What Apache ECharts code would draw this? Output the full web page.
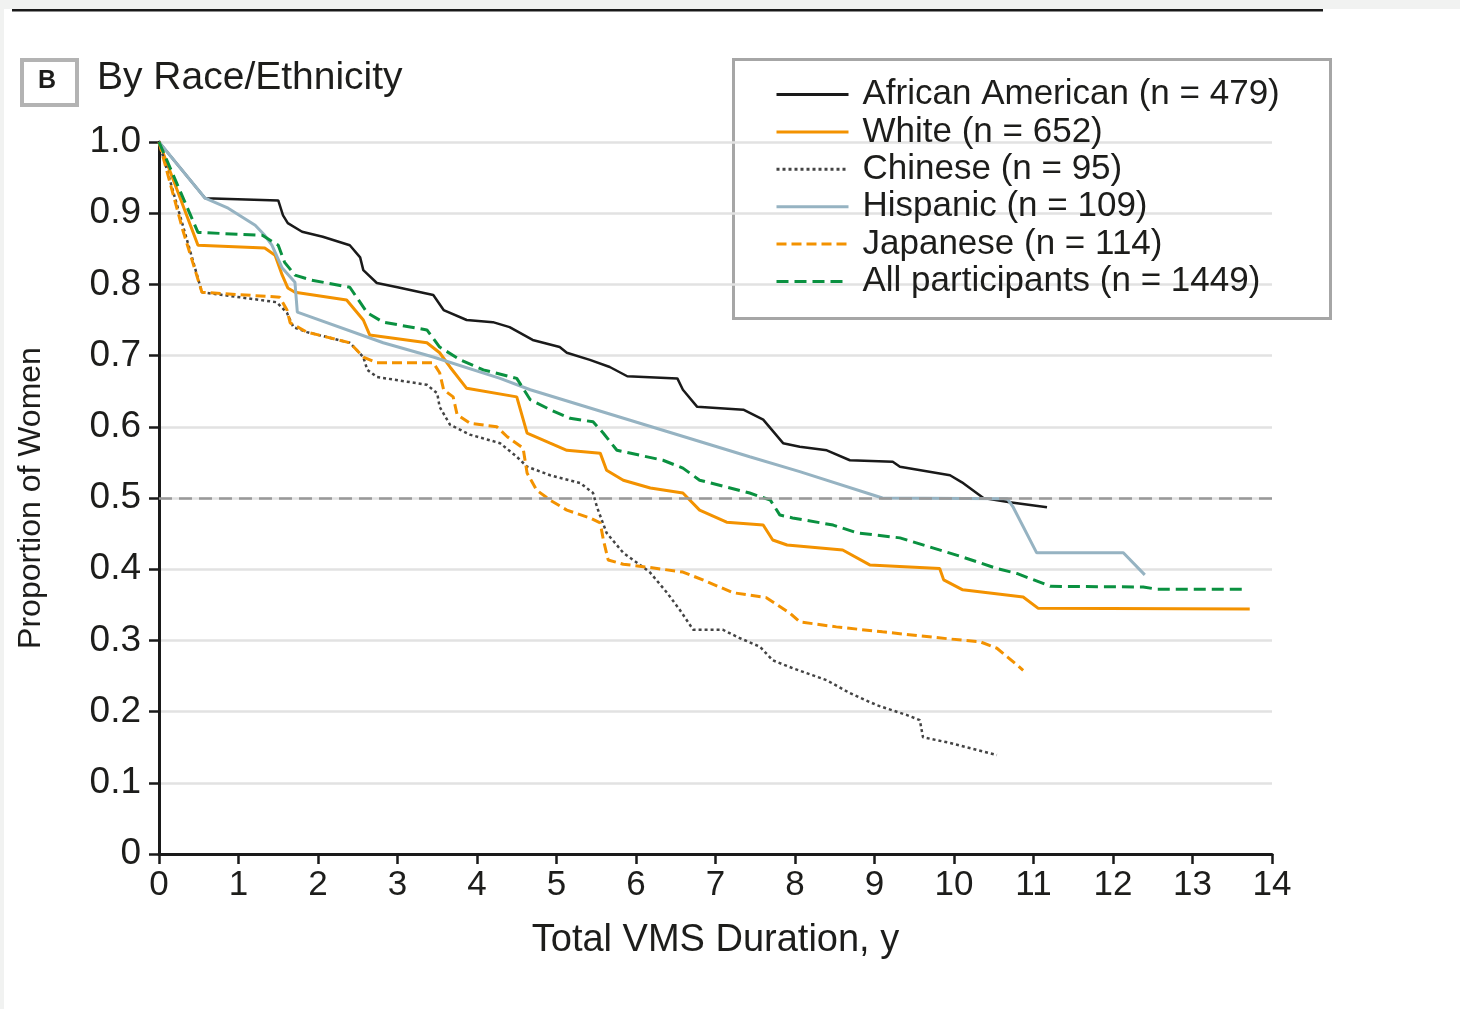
<!DOCTYPE html>
<html>
<head>
<meta charset="utf-8">
<script src="https://cdn.jsdelivr.net/npm/echarts@6/dist/echarts.min.js"></script>
<style>
html,body{margin:0;padding:0;background:#fff;}
#chart{width:1460px;height:1009px;}
</style>
</head>
<body>
<div id="chart"></div>
<script>
// ---- Data ----
var seriesNames = [
  'African American (n = 479)',
  'White (n = 652)',
  'Chinese (n = 95)',
  'Hispanic (n = 109)',
  'Japanese (n = 114)',
  'All participants (n = 1449)'
];

var afrX = [0, 0.58, 1.5, 1.56, 1.62, 1.8, 2.06, 2.4, 2.53, 2.57, 2.74, 3.0, 3.45, 3.58, 3.87, 4.2, 4.41, 4.7, 5.04, 5.13, 5.42, 5.67, 5.89, 6.52, 6.59, 6.77, 7.35, 7.6, 7.85, 8.06, 8.4, 8.69, 9.23, 9.32, 9.95, 10.1, 10.37, 10.7, 11.17];
var afrY = [1.0, 0.921, 0.918, 0.897, 0.886, 0.874, 0.867, 0.855, 0.838, 0.82, 0.802, 0.796, 0.785, 0.764, 0.75, 0.747, 0.74, 0.722, 0.712, 0.704, 0.694, 0.684, 0.671, 0.668, 0.652, 0.628, 0.624, 0.61, 0.577, 0.572, 0.567, 0.553, 0.551, 0.544, 0.532, 0.522, 0.5, 0.494, 0.487];

var whiX = [0, 0.49, 1.33, 1.46, 1.55, 1.62, 1.71, 2.36, 2.57, 2.65, 3.37, 3.53, 3.66, 3.87, 4.5, 4.63, 4.92, 5.13, 5.55, 5.63, 5.84, 6.18, 6.59, 6.8, 7.14, 7.6, 7.72, 7.9, 8.6, 8.94, 9.82, 9.87, 10.11, 10.87, 11.06, 13.72];
var whiY = [1.0, 0.855, 0.851, 0.841, 0.813, 0.795, 0.789, 0.778, 0.75, 0.729, 0.718, 0.704, 0.684, 0.654, 0.642, 0.591, 0.577, 0.567, 0.563, 0.539, 0.525, 0.514, 0.507, 0.483, 0.466, 0.462, 0.441, 0.434, 0.427, 0.406, 0.401, 0.385, 0.371, 0.361, 0.345, 0.344];

var chiX = [0, 0.54, 1.48, 1.61, 1.69, 1.86, 2.4, 2.57, 2.62, 2.74, 3.37, 3.5, 3.53, 3.66, 3.91, 4.29, 4.5, 4.63, 4.92, 5.3, 5.46, 5.51, 5.57, 5.63, 5.84, 6.09, 6.18, 6.39, 6.55, 6.72, 7.09, 7.31, 7.56, 7.72, 7.97, 8.4, 8.69, 9.03, 9.41, 9.57, 9.61, 9.95, 10.54];
var chiY = [1.0, 0.789, 0.775, 0.76, 0.74, 0.733, 0.718, 0.698, 0.68, 0.67, 0.659, 0.647, 0.628, 0.603, 0.589, 0.577, 0.558, 0.544, 0.532, 0.521, 0.507, 0.487, 0.469, 0.451, 0.423, 0.403, 0.395, 0.367, 0.343, 0.315, 0.315, 0.303, 0.291, 0.272, 0.261, 0.244, 0.226, 0.209, 0.195, 0.188, 0.164, 0.156, 0.139];

var hisX = [0, 0.58, 0.87, 1.21, 1.33, 1.42, 1.55, 1.71, 1.74, 2.82, 3.45, 4.29, 4.67, 7.43, 8.06, 9.1, 10.67, 10.74, 11.04, 12.13, 12.4];
var hisY = [1.0, 0.921, 0.907, 0.883, 0.869, 0.855, 0.823, 0.803, 0.761, 0.718, 0.698, 0.668, 0.652, 0.558, 0.537, 0.5, 0.499, 0.488, 0.423, 0.423, 0.392];

var japX = [0, 0.3, 0.54, 1.52, 1.61, 1.65, 1.86, 2.4, 2.57, 2.74, 3.45, 3.53, 3.58, 3.7, 3.75, 3.91, 4.25, 4.38, 4.58, 4.63, 4.75, 4.92, 5.13, 5.42, 5.55, 5.59, 5.65, 5.84, 6.13, 6.59, 6.84, 7.22, 7.64, 7.94, 8.06, 8.52, 9.1, 9.95, 10.33, 10.54, 10.67, 10.87];
var japY = [1.0, 0.876, 0.789, 0.782, 0.764, 0.746, 0.733, 0.718, 0.698, 0.69, 0.69, 0.676, 0.652, 0.642, 0.617, 0.605, 0.6, 0.586, 0.57, 0.535, 0.511, 0.497, 0.483, 0.472, 0.465, 0.441, 0.413, 0.407, 0.403, 0.396, 0.385, 0.367, 0.36, 0.338, 0.326, 0.319, 0.312, 0.302, 0.298, 0.289, 0.277, 0.258];

var allX = [0, 0.49, 1.3, 1.5, 1.58, 1.71, 1.92, 2.4, 2.62, 2.82, 3.37, 3.53, 3.79, 4.08, 4.5, 4.67, 4.92, 5.17, 5.46, 5.59, 5.76, 6.34, 6.59, 6.8, 7.43, 7.69, 7.81, 7.97, 8.48, 8.78, 9.32, 9.7, 10.11, 10.54, 10.79, 11.12, 11.21, 12.38, 12.55, 13.68];
var allY = [1.0, 0.873, 0.869, 0.855, 0.831, 0.813, 0.806, 0.796, 0.76, 0.747, 0.736, 0.712, 0.694, 0.68, 0.668, 0.638, 0.624, 0.612, 0.607, 0.591, 0.567, 0.553, 0.542, 0.525, 0.507, 0.497, 0.476, 0.472, 0.462, 0.451, 0.444, 0.431, 0.417, 0.401, 0.394, 0.38, 0.376, 0.375, 0.372, 0.372];

var xTicks = [0, 1, 2, 3, 4, 5, 6, 7, 8, 9, 10, 11, 12, 13, 14];
var yTickLabels = ['0', '0.1', '0.2', '0.3', '0.4', '0.5', '0.6', '0.7', '0.8', '0.9', '1.0'];
var medianLine = 0.5;

// ---- Build ----
function pairs(xs, ys) { return xs.map(function (x, i) { return [x, ys[i]]; }); }
var FONT = "'Liberation Sans', Arial, sans-serif";
var TXT = '#1d1d1b';

var styles = [
  { data: pairs(afrX, afrY), color: '#1a1a1a', width: 2.5, type: 'solid' },
  { data: pairs(whiX, whiY), color: '#f39200', width: 3, type: 'solid' },
  { data: pairs(chiX, chiY), color: '#444444', width: 2.5, type: [3, 3] },
  { data: pairs(hisX, hisY), color: '#96b3c2', width: 3, type: 'solid' },
  { data: pairs(japX, japY), color: '#f39200', width: 3, type: [10, 5] },
  { data: pairs(allX, allY), color: '#0a9140', width: 3, type: [12, 6] }
];

var series = styles.map(function (s, i) {
  return {
    name: seriesNames[i],
    type: 'line',
    data: s.data,
    symbol: 'none',
    showSymbol: false,
    silent: true,
    z: 3,
    lineStyle: { color: s.color, width: s.width, type: s.type },
    itemStyle: { color: s.color }
  };
});
series.unshift({
  type: 'line',
  data: [],
  silent: true,
  z: 2,
  markLine: {
    silent: true,
    symbol: 'none',
    label: { show: false },
    lineStyle: { color: '#999999', width: 2.5, type: [13, 7] },
    data: [{ yAxis: medianLine }]
  }
});

var chart = echarts.init(document.getElementById('chart'), null, { renderer: 'canvas' });
chart.setOption({
  backgroundColor: '#ffffff',
  animation: false,
  grid: { left: 159, right: 188, top: 142, bottom: 155, containLabel: false },
  xAxis: {
    type: 'value',
    min: 0, max: 14, interval: 1,
    name: 'Total VMS Duration, y',
    nameLocation: 'middle',
    nameGap: 68,
    nameTextStyle: { fontFamily: FONT, fontSize: 38, color: TXT },
    axisLine: { show: true, lineStyle: { color: '#1a1a1a', width: 3 } },
    axisTick: { show: true, length: 10, lineStyle: { color: '#1a1a1a', width: 2.5 } },
    axisLabel: { fontFamily: FONT, fontSize: 35, color: TXT, margin: 14,
      formatter: function (v) { return xTicks.indexOf(v) >= 0 ? String(v) : ''; } },
    splitLine: { show: false }
  },
  yAxis: {
    type: 'value',
    min: 0, max: 1, interval: 0.1,
    name: 'Proportion of Women',
    nameLocation: 'middle',
    nameGap: 112,
    nameRotate: 90,
    nameTextStyle: { fontFamily: FONT, fontSize: 32, color: TXT },
    axisLine: { show: true, lineStyle: { color: '#1a1a1a', width: 3 } },
    axisTick: { show: true, length: 10, lineStyle: { color: '#1a1a1a', width: 2.5 } },
    axisLabel: { fontFamily: FONT, fontSize: 37, color: TXT, margin: 18,
      formatter: function (v) { return yTickLabels[Math.round(v * 10)]; } },
    splitLine: { show: true, lineStyle: { color: '#e2e2e2', width: 2.5 } }
  },
  legend: {
    orient: 'vertical',
    left: 770,
    top: 72,
    itemWidth: 72,
    itemHeight: 14,
    itemGap: 2.4,
    selectedMode: false,
    data: seriesNames,
    itemStyle: { opacity: 0 },
    lineStyle: { width: 3 },
    textStyle: { fontFamily: FONT, fontSize: 35, color: TXT, lineHeight: 34, padding: [0, 0, 0, 9] }
  },
  graphic: [
    { type: 'rect', left: 0, top: 0, shape: { width: 1460, height: 9 }, style: { fill: '#f1f2f1' }, silent: true },
    { type: 'rect', left: 0, top: 0, shape: { width: 4, height: 1009 }, style: { fill: '#f1f2f1' }, silent: true },
    { type: 'rect', left: 12, top: 9, shape: { width: 1311, height: 2.5 }, style: { fill: '#1a1a1a' }, silent: true },
    { type: 'rect', left: 20, top: 58, shape: { width: 55, height: 45 }, style: { fill: '#fff', stroke: '#b3b3b3', lineWidth: 4 }, silent: true },
    { type: 'text', left: 38, top: 69, style: { text: 'B', fontFamily: FONT, fontSize: 25, fontWeight: 'bold', fill: TXT }, silent: true },
    { type: 'text', left: 97, top: 59, style: { text: 'By Race/Ethnicity', fontFamily: FONT, fontSize: 39, fill: TXT }, silent: true },
    { type: 'rect', left: 731, top: 57, shape: { width: 597, height: 259 }, style: { fill: 'none', stroke: '#a6a6a6', lineWidth: 3 }, silent: true, z: -1 }
  ],
  series: series
});
</script>
</body>
</html>
